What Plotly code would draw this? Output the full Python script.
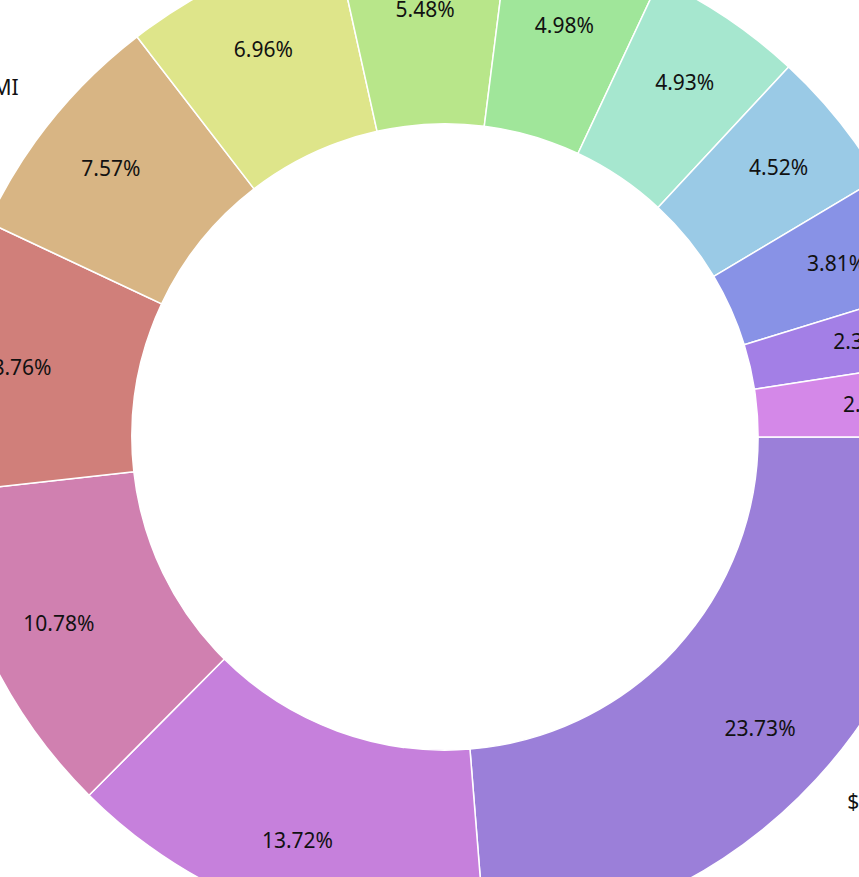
import plotly.graph_objects as go

labels = ["$100K and over", "Grand Rapids, IN", "Fort Wayne, OH", "Toledo, OH",
          "Lansing, MI", "Dayton, OH", "Akron, OH", "Flint, MI", "Gary, IN",
          "Erie, PA", "Peoria, IL", "Muncie, IN", "Other"]
values = [23.73, 13.72, 10.78, 8.76, 7.57, 6.96, 5.48, 4.98, 4.93, 4.52, 3.81, 2.32, 2.44]
colors = ["#9b7fd9", "#c680dc", "#d080b0", "#d07f7a", "#d8b584", "#dee58a", "#b8e68a",
          "#a0e69a", "#a6e7cf", "#9acae6", "#8892e6", "#a37fe6", "#d488e8"]

FONT = "Noto Sans"
R_LABEL = 538          # radius (px) of the invisible ring carrying the outside labels
LABEL_UP = 7           # label ring lifted a little (px)
R_OUTER = 505          # donut outer radius (px)
R_TEXT_WIDE = 490      # invisible ring carrying percentages of the wider slices
R_TEXT_NARROW = 460    # thinner invisible ring for the narrow slices
PAD = 12
SIZE = 2 * (R_LABEL + PAD)
CENTER_X, CENTER_Y = 445, 437
PCT = "%{percent:.2%}"

total = sum(values)
wide_tpl = [PCT if v / total >= 0.045 else "" for v in values]
narrow_tpl = ["" if v / total >= 0.045 else PCT for v in values]


def dom(r, up=0):
    c = SIZE / 2
    return dict(x=[(c - r) / SIZE, (c + r) / SIZE],
                y=[(c - r + up) / SIZE, (c + r + up) / SIZE])


common = dict(labels=labels, values=values, sort=False, direction="clockwise",
              rotation=90, showlegend=False, automargin=False)
clear = dict(colors=["rgba(0,0,0,0)"] * len(values), line=dict(width=0))
tfont = dict(family=FONT, size=21, color="#111111")

fig = go.Figure()
fig.add_trace(go.Pie(
    **common, domain=dom(R_OUTER), hole=0.62,
    marker=dict(colors=colors, line=dict(color="white", width=1.5)),
    textinfo="none",
))
fig.add_trace(go.Pie(
    **common, domain=dom(R_TEXT_WIDE), hole=0.75, marker=clear,
    texttemplate=wide_tpl, textposition="inside", insidetextorientation="horizontal",
    textfont=tfont, hoverinfo="skip",
))
fig.add_trace(go.Pie(
    **common, domain=dom(R_TEXT_NARROW), hole=0.864, marker=clear,
    texttemplate=narrow_tpl, textposition="inside", insidetextorientation="horizontal",
    textfont=tfont, hoverinfo="skip",
))
fig.add_trace(go.Pie(
    **common, domain=dom(R_LABEL, LABEL_UP), hole=0.62, marker=clear,
    textinfo="label", textposition="outside", textfont=tfont, hoverinfo="skip",
))
fig.update_layout(
    width=SIZE, height=SIZE, margin=dict(l=0, r=0, t=0, b=0, autoexpand=False),
    paper_bgcolor="white", plot_bgcolor="white", showlegend=False,
    uniformtext=dict(minsize=21, mode="show"),
)

post = ("var gd=document.getElementById('{plot_id}');"
        "gd.style.position='fixed';"
        f"gd.style.left='{CENTER_X - SIZE // 2}px';gd.style.top='{CENTER_Y - SIZE // 2}px';")
fig.write_html("out.html", post_script=post)
